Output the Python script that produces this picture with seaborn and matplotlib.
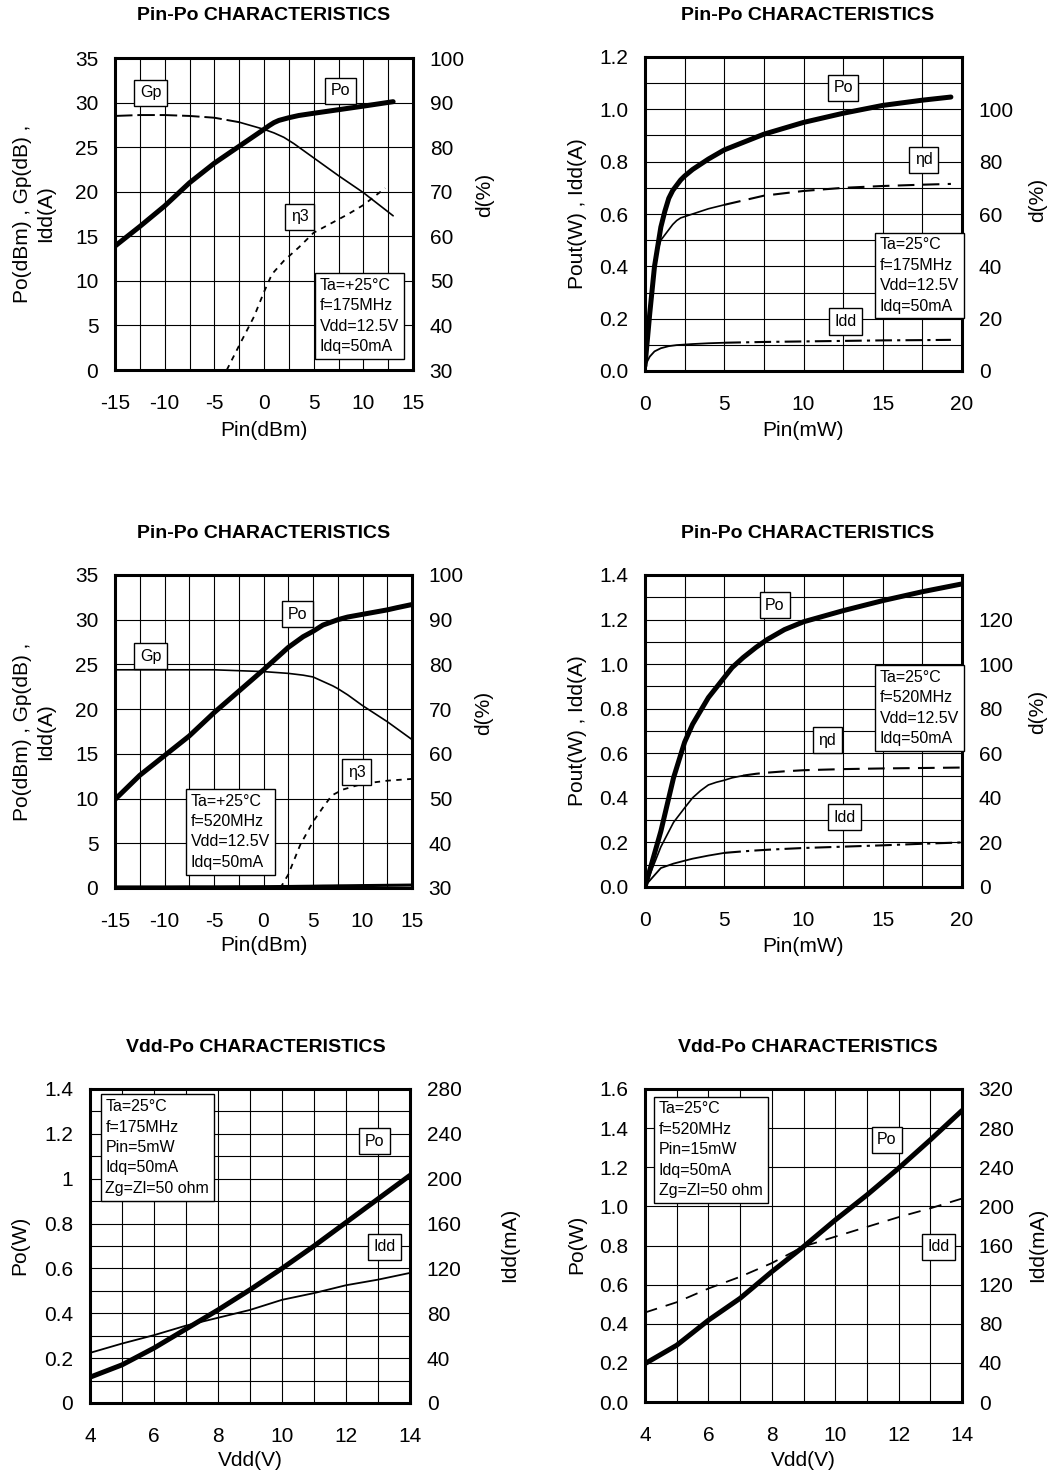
import numpy as np
import matplotlib
matplotlib.use('Agg')
import matplotlib.pyplot as plt
from matplotlib.ticker import MultipleLocator, FormatStrFormatter
import seaborn as sns

# ---------------- data ----------------
# Panel 1: Pin-Po, 175 MHz (Pin in dBm)
p1_pin = [-15, -12.5, -10, -7.5, -5, -2.5, 0, 0.5, 1, 1.5, 2.5, 3.5, 5, 7.5, 10, 13]
p1_po = [13.9, 16.1, 18.4, 21.0, 23.2, 25.1, 27.0, 27.4, 27.75, 28.0, 28.3, 28.55, 28.8, 29.2, 29.6, 30.1]
p1_gp_x = [-15, -12.5, -10, -7.5, -5, -2.5, 0, 1, 2, 3, 4, 5, 7.5, 10, 13]
p1_gp = [28.5, 28.6, 28.6, 28.5, 28.3, 27.8, 27.0, 26.6, 26.1, 25.4, 24.6, 23.8, 21.8, 19.9, 17.3]
p1_eta_x = [-3.75, -2.5, -1, 0, 0.8, 2, 3.5, 5, 7, 8.5, 10, 12.2]
p1_eta = [30, 35.5, 42, 47.5, 51.5, 54.5, 57.5, 60.8, 63.2, 65.0, 67.0, 70.8]

# Panel 2: Pin-Po, 175 MHz (Pin in mW)
p2_pin = [0, 0.3, 0.6, 1, 1.25, 1.5, 1.75, 2, 2.25, 2.5, 3, 4, 5, 7.5, 10, 12.5, 15, 17.5, 19.3]
p2_po = [0.02, 0.22, 0.40, 0.55, 0.61, 0.66, 0.69, 0.71, 0.73, 0.745, 0.77, 0.81, 0.845, 0.905, 0.95, 0.985, 1.015, 1.035, 1.047]
p2_eta = [3, 25, 42, 50, 52, 54, 56, 57.5, 58.5, 59, 60, 62, 63.5, 67, 68.8, 70, 70.7, 71.2, 71.5]
p2_idd = [0.02, 0.055, 0.075, 0.087, 0.091, 0.095, 0.097, 0.099, 0.1, 0.101, 0.103, 0.106, 0.108, 0.111, 0.113, 0.115, 0.117, 0.118, 0.119]

# Panel 3: Pin-Po, 520 MHz (Pin in dBm)
p3_pin = [-15, -12.5, -10, -7.5, -5, -2.5, 0, 2.5, 4, 5, 6, 7, 7.5, 8.5, 10, 12.5, 13.5, 15]
p3_po = [9.9, 12.6, 14.8, 17.0, 19.6, 22.0, 24.4, 26.9, 28.1, 28.7, 29.4, 29.8, 30.0, 30.3, 30.6, 31.1, 31.35, 31.7]
p3_gp = [24.4, 24.4, 24.4, 24.4, 24.4, 24.3, 24.2, 24.0, 23.8, 23.6, 23.1, 22.6, 22.3, 21.6, 20.4, 18.6, 17.8, 16.6]
p3_idd = [0.12, 0.12, 0.12, 0.13, 0.13, 0.14, 0.15, 0.17, 0.19, 0.2, 0.22, 0.23, 0.24, 0.25, 0.27, 0.3, 0.31, 0.33]
p3_eta_x = [1.7, 2.5, 3.7, 5.0, 6.0, 6.9, 8, 10, 12.5, 15]
p3_eta = [30, 33, 39.6, 44.8, 48, 50.7, 52, 53.3, 54, 54.4]

# Panel 4: Pin-Po, 520 MHz (Pin in mW)
p4_pin = [0, 1, 1.8, 2.5, 3, 3.5, 4, 4.5, 5, 5.5, 6.2, 7, 7.7, 8.8, 10, 12.5, 15, 17.5, 20]
p4_po = [0.0, 0.25, 0.49, 0.65, 0.73, 0.79, 0.85, 0.895, 0.94, 0.985, 1.03, 1.075, 1.11, 1.155, 1.19, 1.24, 1.285, 1.325, 1.36]
p4_eta = [0, 18, 29, 35.5, 40, 43.2, 45.8, 47.0, 47.9, 49.0, 50, 50.8, 51.3, 51.9, 52.4, 52.9, 53.2, 53.4, 53.6]
p4_idd = [0.005, 0.085, 0.105, 0.118, 0.127, 0.134, 0.141, 0.147, 0.153, 0.156, 0.16, 0.164, 0.167, 0.171, 0.175, 0.181, 0.187, 0.194, 0.2]

# Panel 5: Vdd-Po, 175 MHz
p5_vdd = [4, 5, 6, 7, 8, 9, 10, 11, 12, 13, 14]
p5_po = [0.115, 0.17, 0.245, 0.33, 0.415, 0.505, 0.6, 0.7, 0.805, 0.91, 1.015]
p5_idd = [44.7, 53, 60.5, 69, 76, 83, 92, 98, 105, 110, 116]

# Panel 6: Vdd-Po, 520 MHz
p6_vdd = [4, 5, 6, 7, 8, 9, 10, 11, 12, 13, 14]
p6_po = [0.196, 0.29, 0.418, 0.53, 0.666, 0.794, 0.93, 1.058, 1.195, 1.34, 1.49]
p6_idd = [91.5, 102, 116, 128, 142, 159, 169, 179, 189, 198, 208]

titles = ["Pin-Po CHARACTERISTICS", "Pin-Po CHARACTERISTICS",
          "Pin-Po CHARACTERISTICS", "Pin-Po CHARACTERISTICS",
          "Vdd-Po CHARACTERISTICS", "Vdd-Po CHARACTERISTICS"]

# ---------------- style ----------------
sns.set_theme(style='white')
plt.rcParams['font.family'] = ['Liberation Sans', 'DejaVu Sans']
plt.rcParams['axes.unicode_minus'] = False

W, H = 1050, 1475
fig = plt.figure(figsize=(W / 100, H / 100), dpi=100)
TICK_FS = 15
BOX_FS = 11.5


def make_axes(l, r, t, b):
    ax = fig.add_axes([l / W, 1 - b / H, (r - l) / W, (b - t) / H])
    ax2 = ax.twinx()
    return ax, ax2


def line(ax, x, y, lw=1.2, ls='-'):
    sns.lineplot(x=list(x), y=list(y), ax=ax, color='black', lw=lw,
                 linestyle=ls, sort=False, errorbar=None, estimator=None)


def style(ax, ax2, xlim, xmajor, xminor, ylim, ymajor, yminor, y2lim, y2ticks, yfmt):
    ax.set_xticks(xmajor)
    ax.xaxis.set_minor_locator(MultipleLocator(xminor))
    ax.set_yticks(ymajor)
    ax.yaxis.set_minor_locator(MultipleLocator(yminor))
    ax.set_xlim(xlim)
    ax.set_ylim(ylim)
    ax2.set_yticks(y2ticks)
    ax2.set_ylim(y2lim)
    ax.yaxis.set_major_formatter(FormatStrFormatter(yfmt))
    ax.grid(which='both', color='black', lw=0.8)
    ax.set_axisbelow(True)
    ax.tick_params(which='both', length=0, labelsize=TICK_FS, colors='black')
    ax.tick_params(axis='x', pad=17)
    ax.tick_params(axis='y', pad=12)
    ax2.tick_params(which='both', length=0, labelsize=TICK_FS, pad=12, colors='black')
    for s in ax.spines.values():
        s.set_linewidth(2.2)
        s.set_color('black')
        s.set_visible(True)
    for s in ax2.spines.values():
        s.set_visible(False)
    ax2.grid(False)


def labels(ax, ax2, xl, yl, y2l, ypos, y2pos, axh, xl_off=60):
    ax.set_xlabel(xl, fontsize=TICK_FS, va='center', color='black')
    ax.xaxis.set_label_coords(0.5, -xl_off / axh)
    ax.set_ylabel(yl, fontsize=TICK_FS, va='center', ha='center',
                  multialignment='center', color='black', linespacing=1.3)
    ax.yaxis.set_label_coords(ypos[0], ypos[1])
    ax2.set_ylabel(y2l, fontsize=TICK_FS, va='center', ha='center', color='black')
    ax2.yaxis.set_label_coords(y2pos[0], y2pos[1])


def tag(ax, ax2, x, y, s):
    ax2.annotate(s, xy=(x, y), xycoords=ax.transData, ha='center', va='center',
                 fontsize=BOX_FS, color='black', zorder=10,
                 bbox=dict(boxstyle='square,pad=0.35', fc='white', ec='black', lw=1.0))


def infobox(ax, ax2, x, y, s):
    pad = 0.3
    ax2.annotate(s, xy=(x, y), xycoords=ax.transData,
                 xytext=(pad * BOX_FS, -pad * BOX_FS), textcoords='offset points',
                 ha='left', va='top', fontsize=BOX_FS, color='black', linespacing=1.45,
                 zorder=10,
                 bbox=dict(boxstyle=f'square,pad={pad}', fc='white', ec='black', lw=1.0))


def title(cx, cy, s):
    fig.text(cx / W, 1 - cy / H, s, ha='center', va='center', fontsize=14,
             fontweight='bold', color='black')


# ---------------- Panel 1 ----------------
l, r, t, b = 115, 413, 58, 370
ax, ax2 = make_axes(l, r, t, b)
line(ax, p1_pin, p1_po, lw=3.6)
gx = np.array(p1_gp_x); gy = np.array(p1_gp)
m1 = gx <= -2.5
line(ax, gx[m1], gy[m1], lw=1.4, ls=(0, (9, 2.5)))
line(ax, gx[gx >= -2.5], gy[gx >= -2.5], lw=1.2)
line(ax2, p1_eta_x, p1_eta, lw=1.3, ls=(0, (3, 3)))
style(ax, ax2, (-15, 15), np.arange(-15, 16, 5), 2.5, (0, 35), np.arange(0, 36, 5), 5,
      (30, 100), np.arange(30, 101, 10), '%g')
labels(ax, ax2, 'Pin(dBm)', 'Po(dBm) , Gp(dB) ,\nIdd(A)', 'd(%)',
       (-0.272, 0.5), (1.242, 0.56), b - t)
tag(ax, ax2, -11.4, 31.1, 'Gp')
tag(ax, ax2, 7.7, 31.3, 'Po')
tag(ax, ax2, 3.6, 17.2, 'η3')
infobox(ax, ax2, 5.15, 10.86, 'Ta=+25°C\nf=175MHz\nVdd=12.5V\nIdq=50mA')
title(264, 16, titles[0])

# ---------------- Panel 2 ----------------
l, r, t, b = 645, 962, 57, 371
ax, ax2 = make_axes(l, r, t, b)
x2 = np.array(p2_pin)
line(ax, x2, p2_po, lw=3.6)
ms = x2 <= 5
line(ax2, x2[ms], np.array(p2_eta)[ms], lw=1.2)
line(ax2, x2[x2 >= 5], np.array(p2_eta)[x2 >= 5], lw=1.5, ls=(0, (8, 4)))
line(ax, x2[ms], np.array(p2_idd)[ms], lw=1.3)
line(ax, x2[x2 >= 5], np.array(p2_idd)[x2 >= 5], lw=1.5, ls=(0, (8, 2.5, 1.5, 2.5)))
style(ax, ax2, (0, 20), np.arange(0, 21, 5), 2.5, (0, 1.2), np.arange(0, 1.21, 0.2), 0.1,
      (0, 120), np.arange(0, 101, 20), '%.1f')
labels(ax, ax2, 'Pin(mW)', 'Pout(W) , Idd(A)', 'd(%)',
       (-0.2145, 0.5), (1.24, 0.545), b - t)
tag(ax, ax2, 12.5, 1.082, 'Po')
tag(ax, ax2, 17.6, 0.807, 'ηd')
tag(ax, ax2, 12.65, 0.189, 'Idd')
infobox(ax, ax2, 14.5, 0.529, 'Ta=25°C\nf=175MHz\nVdd=12.5V\nIdq=50mA')
title(808, 16, titles[1])

# ---------------- Panel 3 ----------------
l, r, t, b = 115, 412, 575, 888
ax, ax2 = make_axes(l, r, t, b)
line(ax, p3_pin, p3_po, lw=3.6)
line(ax, p3_pin, p3_gp, lw=1.2)
line(ax, p3_pin, p3_idd, lw=2.2)
line(ax2, p3_eta_x, p3_eta, lw=1.3, ls=(0, (3, 3)))
style(ax, ax2, (-15, 15), np.arange(-15, 16, 5), 2.5, (0, 35), np.arange(0, 36, 5), 5,
      (30, 100), np.arange(30, 101, 10), '%g')
labels(ax, ax2, 'Pin(dBm)', 'Po(dBm) , Gp(dB) ,\nIdd(A)', 'd(%)',
       (-0.272, 0.5), (1.242, 0.56), b - t, xl_off=58)
tag(ax, ax2, -11.4, 25.9, 'Gp')
tag(ax, ax2, 3.4, 30.6, 'Po')
tag(ax, ax2, 9.4, 12.96, 'η3')
infobox(ax, ax2, -7.82, 11.1, 'Ta=+25°C\nf=520MHz\nVdd=12.5V\nIdq=50mA')
title(264, 533, titles[2])

# ---------------- Panel 4 ----------------
l, r, t, b = 645, 962, 575, 887
ax, ax2 = make_axes(l, r, t, b)
x4 = np.array(p4_pin)
line(ax, x4, p4_po, lw=3.6)
line(ax2, x4[x4 <= 6.2], np.array(p4_eta)[x4 <= 6.2], lw=1.2)
line(ax2, x4[x4 >= 6.2], np.array(p4_eta)[x4 >= 6.2], lw=1.5, ls=(0, (8, 4)))
line(ax, x4[x4 <= 5], np.array(p4_idd)[x4 <= 5], lw=1.3)
line(ax, x4[x4 >= 5], np.array(p4_idd)[x4 >= 5], lw=1.5, ls=(0, (8, 2.5, 1.5, 2.5)))
style(ax, ax2, (0, 20), np.arange(0, 21, 5), 2.5, (0, 1.4), np.arange(0, 1.41, 0.2), 0.1,
      (0, 140), np.arange(0, 121, 20), '%.1f')
labels(ax, ax2, 'Pin(mW)', 'Pout(W) , Idd(A)', 'd(%)',
       (-0.2145, 0.5), (1.24, 0.56), b - t)
tag(ax, ax2, 8.2, 1.265, 'Po')
tag(ax, ax2, 11.5, 0.659, 'ηd')
tag(ax, ax2, 12.6, 0.314, 'Idd')
infobox(ax, ax2, 14.5, 0.995, 'Ta=25°C\nf=520MHz\nVdd=12.5V\nIdq=50mA')
title(808, 533, titles[3])

# ---------------- Panel 5 ----------------
l, r, t, b = 90, 410, 1089, 1403
ax, ax2 = make_axes(l, r, t, b)
line(ax, p5_vdd, p5_po, lw=3.6)
line(ax2, p5_vdd, p5_idd, lw=1.3)
style(ax, ax2, (4, 14), np.arange(4, 15, 2), 1, (0, 1.4), np.arange(0, 1.41, 0.2), 0.1,
      (0, 280), np.arange(0, 281, 40), '%g')
labels(ax, ax2, 'Vdd(V)', 'Po(W)', 'Idd(mA)',
       (-0.219, 0.503), (1.3125, 0.503), b - t, xl_off=58)
tag(ax, ax2, 12.9, 1.167, 'Po')
tag(ax, ax2, 13.2, 0.697, 'Idd')
infobox(ax, ax2, 4.33, 1.376, 'Ta=25°C\nf=175MHz\nPin=5mW\nIdq=50mA\nZg=Zl=50 ohm')
title(256, 1048, titles[4])

# ---------------- Panel 6 ----------------
l, r, t, b = 645, 962, 1089, 1402
ax, ax2 = make_axes(l, r, t, b)
line(ax, p6_vdd, p6_po, lw=3.6)
line(ax2, p6_vdd, p6_idd, lw=1.3, ls=(0, (7, 5)))
style(ax, ax2, (4, 14), np.arange(4, 15, 2), 1, (0, 1.6), np.arange(0, 1.61, 0.2), 0.2,
      (0, 320), np.arange(0, 321, 40), '%.1f')
labels(ax, ax2, 'Vdd(V)', 'Po(W)', 'Idd(mA)',
       (-0.2145, 0.503), (1.24, 0.503), b - t, xl_off=58)
tag(ax, ax2, 11.63, 1.34, 'Po')
tag(ax, ax2, 13.26, 0.794, 'Idd')
infobox(ax, ax2, 4.29, 1.561, 'Ta=25°C\nf=520MHz\nPin=15mW\nIdq=50mA\nZg=Zl=50 ohm')
title(808, 1048, titles[5])

fig.savefig('out.png', dpi=100, facecolor='white')
